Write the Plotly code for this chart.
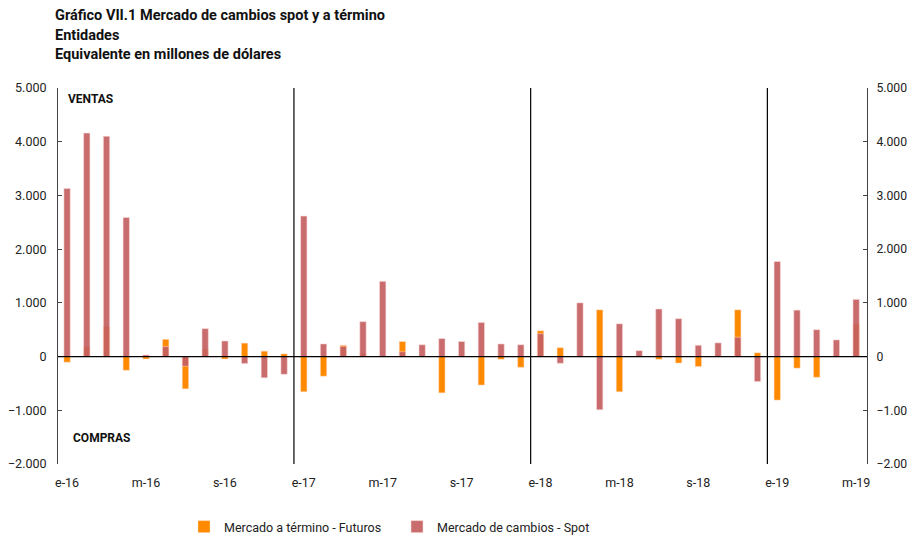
import plotly.graph_objects as go

months = [
    "e-16","f-16","m-16","a-16","m-16","j-16","j-16","a-16","s-16","o-16","n-16","d-16",
    "e-17","f-17","m-17","a-17","m-17","j-17","j-17","a-17","s-17","o-17","n-17","d-17",
    "e-18","f-18","m-18","a-18","m-18","j-18","j-18","a-18","s-18","o-18","n-18","d-18",
    "e-19","f-19","m-19","a-19","m-19",
]
categories = [f"{i:02d}" for i in range(len(months))]

futuros = [
    -105, 190, 560, -255, -45, 320, -600, 140, -45, 250, 100, 50,
    -655, -365, 210, 60, 0, 280, 0, -675, 0, -530, -50, -200,
    480, 165, 0, 870, -655, 0, -50, -120, -185, 0, 870, 70,
    -810, -215, -385, 0, 600,
]
spot = [
    3130, 4160, 4100, 2590, 30, 185, -180, 520, 290, -130, -395, -330,
    2615, 235, 190, 650, 1400, 90, 220, 335, 280, 635, 235, 220,
    425, -125, 1000, -990, 610, 110, 885, 705, 210, 255, 360, -465,
    1770, 865, 500, 310, 1065,
]

tick_idx = list(range(0, len(months), 4))
tick_vals = [categories[i] for i in tick_idx]
tick_text = [months[i] for i in tick_idx]

y_ticks = [-2000, -1000, 0, 1000, 2000, 3000, 4000, 5000]

ORANGE = "#FF8A00"
RED = "#C46163"

fig = go.Figure()
fig.add_trace(go.Bar(
    x=categories, y=futuros, name="Mercado a término - Futuros",
    marker=dict(color=ORANGE, line=dict(color="rgba(255,220,200,0.6)", width=0.8)),
    width=0.32,
))
fig.add_trace(go.Bar(
    x=categories, y=spot, name="Mercado de cambios - Spot",
    marker=dict(color=RED, line=dict(color="rgba(255,215,215,0.7)", width=0.8)),
    opacity=0.93, width=0.32,
))
fig.add_trace(go.Scatter(x=[categories[0]], y=[0], yaxis="y2", mode="markers",
                         marker=dict(opacity=0), showlegend=False, hoverinfo="skip"))

font = "Roboto, 'Noto Sans', sans-serif"

yax = dict(range=[-2000, 5000], tickvals=y_ticks, tickformat=",d", showgrid=False, zeroline=False,
           showline=True, linecolor="#444", linewidth=1, ticks="inside", ticklen=4,
           tickcolor="#444", automargin=False, ticklabelstandoff=8,
           tickfont=dict(size=12.5, color="#222", family=font))
yax2 = dict(yax, overlaying="y", side="right", matches="y", ticklabelstandoff=6,
            tickfont=dict(size=12.2, color="#222", family=font))

# page body has an 8px margin, so the figure is sized/offset to compensate
fig.update_layout(
    width=907, height=528,
    margin=dict(l=50, r=48, t=80, b=72, autoexpand=False),
    paper_bgcolor="white", plot_bgcolor="white",
    barmode="overlay",
    separators=",.",
    font=dict(family=font, color="#222"),
    xaxis=dict(type="category", categoryorder="array", categoryarray=categories,
               range=[-0.46, 40.55], tickvals=tick_vals, ticktext=tick_text,
               showgrid=False, showline=False, ticks="", zeroline=False, automargin=False,
               ticklabelstandoff=9,
               tickfont=dict(size=12.5, color="#222", family=font)),
    yaxis=yax,
    yaxis2=yax2,
    legend=dict(orientation="h", x=(184 - 58) / 809, xanchor="left", y=-(527 - 464) / 376,
                yanchor="middle", font=dict(size=12.5, family=font, color="#222"), itemwidth=30,
                traceorder="normal", entrywidth=168),
    showlegend=True,
)

fig.add_shape(type="line", xref="paper", yref="y", x0=0, x1=1, y0=0, y1=0,
              line=dict(color="black", width=1.3))
for xv in [11.5, 23.5, 35.5]:
    fig.add_shape(type="line", xref="x", yref="y", x0=xv, x1=xv, y0=-2000, y1=5000,
                  line=dict(color="black", width=1.2))

title_lines = ["Gráfico VII.1 Mercado de cambios spot y a término", "Entidades",
               "Equivalente en millones de dólares"]
for i, t in enumerate(title_lines):
    fig.add_annotation(text=f"<b>{t}</b>", xref="paper", yref="paper", x=-5 / 809, xanchor="left",
                       y=(464 - 15 - 20 * i) / 376, yanchor="middle", showarrow=False,
                       font=dict(size=14.5, family=font, color="#111"))

fig.add_annotation(text="<b>VENTAS</b>", xref="paper", yref="paper", x=8 / 809, xanchor="left",
                   y=(464 - 99) / 376, yanchor="middle", showarrow=False,
                   font=dict(size=12, family=font, color="#111"))
fig.add_annotation(text="<b>COMPRAS</b>", xref="paper", yref="paper", x=13 / 809, xanchor="left",
                   y=(464 - 438) / 376, yanchor="middle", showarrow=False,
                   font=dict(size=12, family=font, color="#111"))

fig.write_html("out.html")
